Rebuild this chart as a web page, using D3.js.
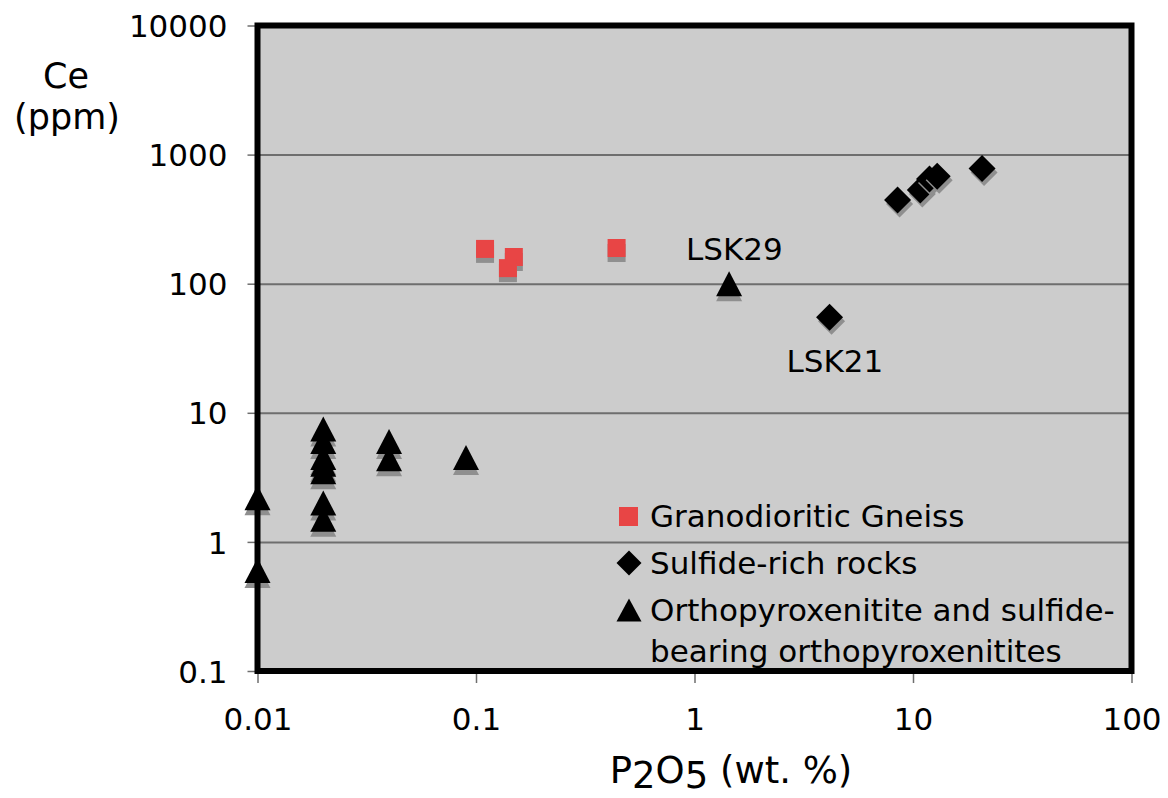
<!DOCTYPE html>
<html>
<head>
<meta charset="utf-8">
<script src="https://cdn.jsdelivr.net/npm/d3@7"></script>
<style>
  html, body { margin: 0; padding: 0; background: #ffffff; }
  svg { display: block; }
  text { font-family: "DejaVu Sans", Verdana, sans-serif; fill: #000; }
</style>
</head>
<body>
<svg id="chart" width="1168" height="798"></svg>
<script>
// ---------------- data ----------------
const xTickValues = [0.01, 0.1, 1, 10, 100];
const xTickLabels = ["0.01", "0.1", "1", "10", "100"];
const yTickValues = [0.1, 1, 10, 100, 1000, 10000];
const yTickLabels = ["0.1", "1", "10", "100", "1000", "10000"];

const gneissP2O5 = [0.110, 0.149, 0.140, 0.44];
const gneissCe   = [186, 161, 132, 189];

const sulfideP2O5 = [4.15, 8.5, 10.8, 11.9, 12.9, 20.7];
const sulfideCe   = [55, 444, 531, 646, 681, 780];

const orthoP2O5 = [0.01, 0.01, 0.02, 0.02, 0.02, 0.02, 0.02, 0.02, 0.02, 0.04, 0.04, 0.09, 1.44];
const orthoCe   = [2.2, 0.6, 7.5, 6.0, 4.5, 4.0, 3.5, 2.0, 1.5, 6.0, 4.4, 4.5, 100];

const seriesNames = ["Granodioritic Gneiss", "Sulfide-rich rocks", "Orthopyroxenitite and sulfide-", "bearing orthopyroxenitites"];
const annotLabels = ["LSK29", "LSK21"];
const annotP2O5 = [1.44, 4.15];
const annotCe = [100, 55];

// ---------------- layout ----------------
const svg = d3.select("#chart");
const x0 = 257.5, x1 = 1131.5, yTop = 25.5, yBot = 671;
const x = d3.scaleLog().domain([0.01, 100]).range([x0, x1]);
const y = d3.scaleLog().domain([0.1, 10000]).range([yBot, yTop]);

const gridColor = "#6e6e6e";
const shadowColor = "#8f8f8f";
const fs = 31;

// plot background
svg.append("rect").attr("x", x0).attr("y", yTop).attr("width", x1 - x0).attr("height", yBot - yTop)
  .attr("fill", "#cccccc");

// gridlines
const grid = svg.append("g").attr("transform", `translate(${x0},0)`)
  .call(d3.axisLeft(y).tickValues(yTickValues).tickSizeInner(-(x1 - x0)).tickSizeOuter(0).tickFormat(""));
grid.select(".domain").remove();
grid.selectAll("line").attr("stroke", gridColor).attr("stroke-width", 2);

// y axis ticks & labels
const yAx = svg.append("g").attr("transform", `translate(${x0},0)`)
  .call(d3.axisLeft(y).tickValues(yTickValues).tickSize(10).tickPadding(20)
    .tickFormat((d, i) => yTickLabels[i]));
yAx.select(".domain").remove();
yAx.selectAll("line").attr("stroke", gridColor).attr("stroke-width", 1.5);
yAx.selectAll("text").attr("font-size", fs).attr("font-family", "DejaVu Sans").attr("fill", "#000")
  .attr("dy", "0.36em");

// x axis ticks & labels
const xAx = svg.append("g").attr("transform", `translate(0,${yBot})`)
  .call(d3.axisBottom(x).tickValues(xTickValues).tickSize(12)
    .tickFormat((d, i) => xTickLabels[i]));
xAx.select(".domain").remove();
xAx.selectAll("line").attr("stroke", gridColor).attr("stroke-width", 1.5);
xAx.selectAll("text").attr("font-size", fs).attr("font-family", "DejaVu Sans").attr("fill", "#000")
  .attr("y", 59).attr("dy", 0);

// ---------------- markers ----------------
const triW = 26, triH = 25, dia = 13.5, sq = 18;
function triPath(cx, cy, w, h) {
  return `M${cx},${cy - h / 2}L${cx + w / 2},${cy + h / 2}L${cx - w / 2},${cy + h / 2}Z`;
}
function diaPath(cx, cy, r) {
  return `M${cx},${cy - r}L${cx + r},${cy}L${cx},${cy + r}L${cx - r},${cy}Z`;
}
const pts = svg.append("g");

// gneiss squares
gneissP2O5.forEach((p, i) => {
  const cx = x(p), cy = y(gneissCe[i]);
  pts.append("rect").attr("x", cx - sq / 2).attr("y", cy - sq / 2 + 5).attr("width", sq).attr("height", sq)
    .attr("fill", shadowColor);
  pts.append("rect").attr("x", cx - sq / 2).attr("y", cy - sq / 2).attr("width", sq).attr("height", sq)
    .attr("fill", "#e84545");
});
// sulfide diamonds
sulfideP2O5.forEach((p, i) => {
  const cx = x(p), cy = y(sulfideCe[i]);
  pts.append("path").attr("d", diaPath(cx + 2, cy + 4, dia)).attr("fill", shadowColor);
  pts.append("path").attr("d", diaPath(cx, cy, dia)).attr("fill", "#000");
});
// ortho triangles
orthoP2O5.forEach((p, i) => {
  const cx = x(p), cy = y(orthoCe[i]);
  pts.append("path").attr("d", triPath(cx, cy + 5, triW, triH)).attr("fill", shadowColor);
  pts.append("path").attr("d", triPath(cx, cy, triW, triH)).attr("fill", "#000");
});

// frame
svg.append("rect").attr("x", x0).attr("y", yTop).attr("width", x1 - x0).attr("height", yBot - yTop)
  .attr("fill", "none").attr("stroke", "#000").attr("stroke-width", 6);

// annotations
svg.append("text").attr("x", x(annotP2O5[0]) - 43).attr("y", y(annotCe[0]) - 24)
  .attr("font-size", fs).text(annotLabels[0]);
svg.append("text").attr("x", x(annotP2O5[1]) - 43).attr("y", y(annotCe[1]) + 55)
  .attr("font-size", fs).text(annotLabels[1]);

// legend
const lg = svg.append("g");
const lgTextX = 650;
const lgBase = [527, 574, 621, 662];
lg.append("rect").attr("x", 619).attr("y", lgBase[0] - 20).attr("width", 19).attr("height", 19).attr("fill", "#e84545");
lg.append("path").attr("d", diaPath(629, lgBase[1] - 11, 12.5)).attr("fill", "#000");
lg.append("path").attr("d", triPath(629, lgBase[2] - 11, 25, 23)).attr("fill", "#000");
seriesNames.forEach((s, i) => {
  lg.append("text").attr("x", lgTextX).attr("y", lgBase[i]).attr("font-size", fs).text(s);
});

// axis titles
const xt = svg.append("text").attr("x", 731).attr("y", 783).attr("text-anchor", "middle").attr("font-size", 37);
xt.append("tspan").text("P");
xt.append("tspan").attr("dy", 5).text("2");
xt.append("tspan").attr("dy", -5).text("O");
xt.append("tspan").attr("dy", 5).text("5");
xt.append("tspan").attr("dy", -5).text(" (wt. %)");

svg.append("text").attr("x", 66).attr("y", 87.5).attr("text-anchor", "middle").attr("font-size", 35).text("Ce");
svg.append("text").attr("x", 67).attr("y", 128.5).attr("text-anchor", "middle").attr("font-size", 35).text("(ppm)");
</script>
</body>
</html>
